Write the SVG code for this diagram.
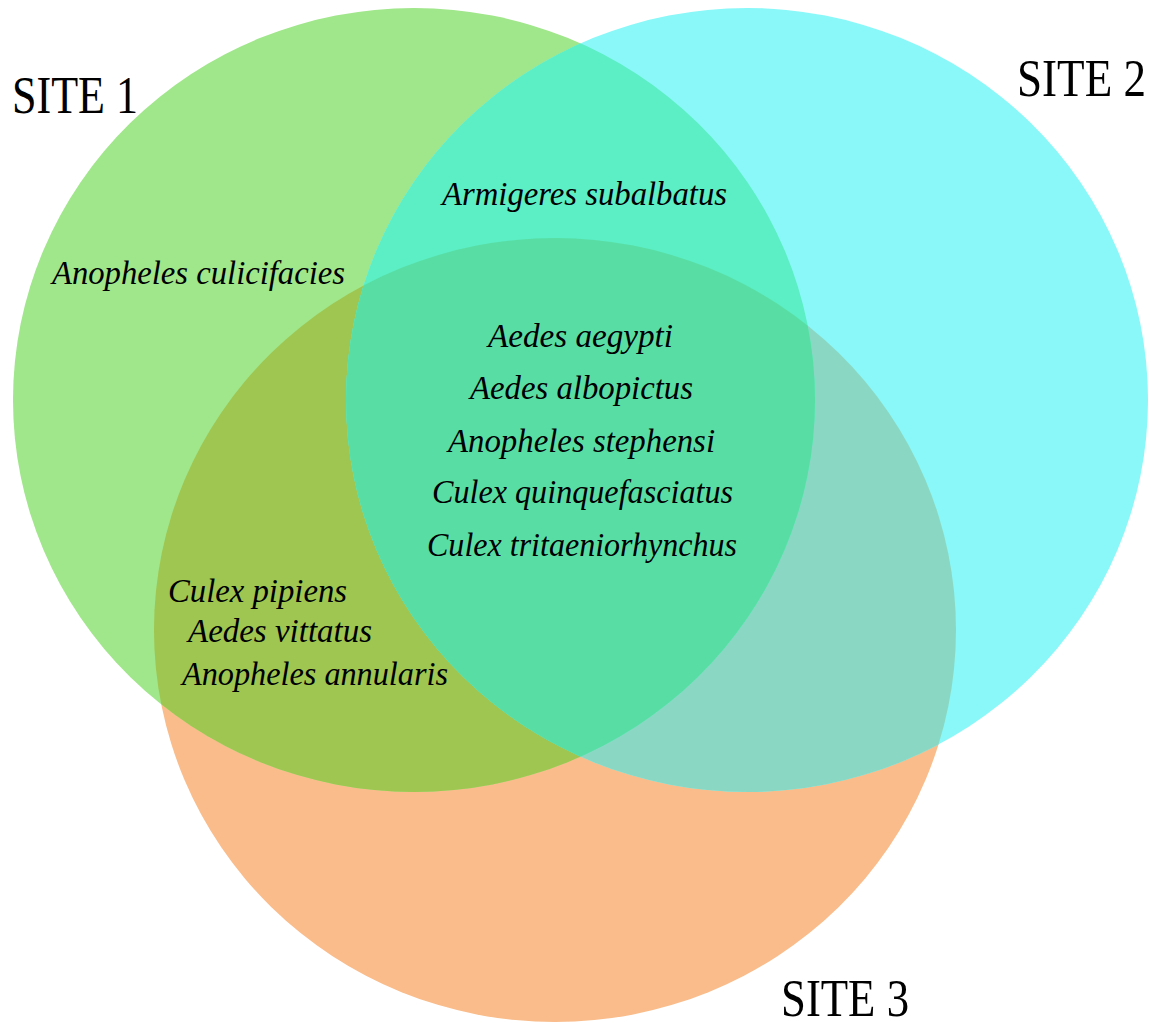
<svg xmlns="http://www.w3.org/2000/svg" width="1151" height="1023" viewBox="0 0 1151 1023">
<style>
.site{font-family:"Liberation Serif","Times New Roman",serif;font-size:52px;fill:#000}
.sp{font-family:"Liberation Serif","Times New Roman",serif;font-style:italic;font-size:33px;fill:#000}
</style>
<defs>
<clipPath id="clipO"><ellipse cx="555" cy="630" rx="401" ry="392"/></clipPath>
<clipPath id="clipC"><ellipse cx="747" cy="400" rx="401" ry="392"/></clipPath>
</defs>
<rect width="1151" height="1023" fill="#fff"/>
<g id="site3"><ellipse cx="555" cy="630" rx="401" ry="392" fill="#F9BC8A"/></g>
<g id="site1"><ellipse cx="414" cy="400" rx="401" ry="392" fill="#A0E68A"/></g>
<g id="site2"><ellipse cx="747" cy="400" rx="401" ry="392" fill="#8AF8F8"/></g>
<g id="overlaps">
<ellipse cx="414" cy="400" rx="401" ry="392" fill="#9EC650" clip-path="url(#clipO)"/>
<ellipse cx="747" cy="400" rx="401" ry="392" fill="#8AD8C4" clip-path="url(#clipO)"/>
<ellipse cx="414" cy="400" rx="401" ry="392" fill="#5CEEC4" clip-path="url(#clipC)"/>
<g clip-path="url(#clipO)"><ellipse cx="414" cy="400" rx="401" ry="392" fill="#58DEA4" clip-path="url(#clipC)"/></g>
</g>
<g id="labels">
<text class="site" x="12" y="113" textLength="126" lengthAdjust="spacingAndGlyphs">SITE 1</text>
<text class="site" x="1017" y="96" textLength="129" lengthAdjust="spacingAndGlyphs">SITE 2</text>
<text class="site" x="781" y="1016" textLength="128" lengthAdjust="spacingAndGlyphs">SITE 3</text>
</g>
<g id="species">
<text class="sp" x="52" y="284" textLength="293" lengthAdjust="spacingAndGlyphs">Anopheles culicifacies</text>
<text class="sp" x="442" y="205" textLength="285" lengthAdjust="spacingAndGlyphs">Armigeres subalbatus</text>
<text class="sp" x="488" y="347" textLength="185" lengthAdjust="spacingAndGlyphs">Aedes aegypti</text>
<text class="sp" x="470" y="399" textLength="223" lengthAdjust="spacingAndGlyphs">Aedes albopictus</text>
<text class="sp" x="448" y="452" textLength="267" lengthAdjust="spacingAndGlyphs">Anopheles stephensi</text>
<text class="sp" x="432" y="503" textLength="301" lengthAdjust="spacingAndGlyphs">Culex quinquefasciatus</text>
<text class="sp" x="427" y="556" textLength="310" lengthAdjust="spacingAndGlyphs">Culex tritaeniorhynchus</text>
<text class="sp" x="168" y="602" textLength="179" lengthAdjust="spacingAndGlyphs">Culex pipiens</text>
<text class="sp" x="188" y="642" textLength="184" lengthAdjust="spacingAndGlyphs">Aedes vittatus</text>
<text class="sp" x="182" y="685" textLength="266" lengthAdjust="spacingAndGlyphs">Anopheles annularis</text>
</g>
</svg>
